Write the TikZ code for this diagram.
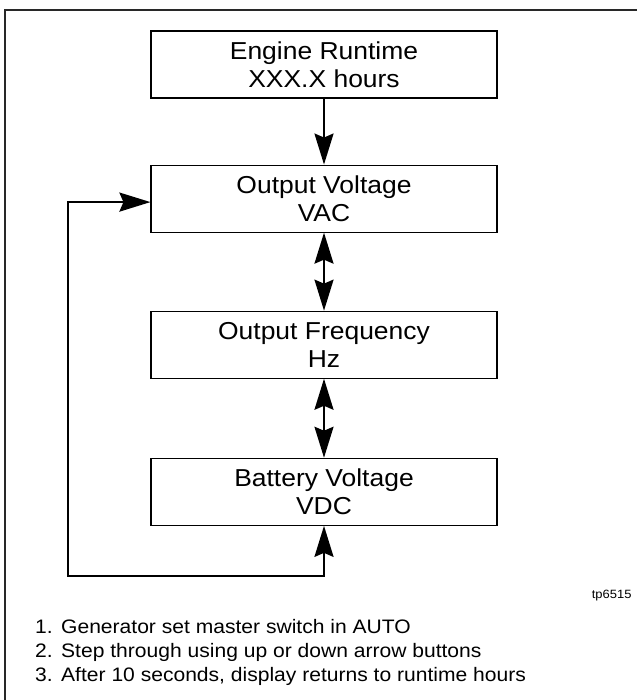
\documentclass[tikz,border=0pt]{standalone}
\usepackage{fontspec}
\setmainfont[FakeStretch=1.08]{Liberation Sans}
\definecolor{framegray}{RGB}{40,40,40}
\usetikzlibrary{arrows.meta,positioning}

\begin{document}
\begin{tikzpicture}[x=1pt,y=-1pt,
    screen/.style={draw=black, line width=1.1pt, minimum width=346pt, minimum height=67pt,
      inner sep=0pt, align=center, font=\fontsize{24.5}{28.5}\selectfont},
    flow/.style={line width=2.2pt, -{Stealth[length=31pt,width=19pt,inset=4pt]}},
    twoway/.style={line width=2.2pt, {Stealth[length=31pt,width=19pt,inset=4pt]}-{Stealth[length=31pt,width=19pt,inset=4pt]}}]
  \useasboundingbox (0,0) rectangle (637,700);
  \draw[framegray, line width=2pt] (5,700) -- (5,10) -- (637,10);

  \node[screen] (runtime) at (324,64.5) {Engine Runtime\\XXX.X hours};
  \node[screen, below=66pt of runtime] (vac) {Output Voltage\\VAC};
  \node[screen, below=78pt of vac] (freq) {Output Frequency\\Hz};
  \node[screen, below=79pt of freq] (vdc) {Battery Voltage\\VDC};
  \coordinate (loopcorner) at (68,576);

  \draw[flow] (runtime) -- (vac);
  \draw[twoway] (vac) -- (freq);
  \draw[twoway] (freq) -- (vdc);
  \draw[twoway] (vdc.south) |- (loopcorner) |- ([yshift=-3.5pt]vac.west);

  \node[anchor=base east, font=\fontsize{12}{14}\selectfont] (figref) at (635,598) {tp6515};
  \node[anchor=base west, align=left, inner sep=0pt, font=\fontsize{19.5}{24}\selectfont] (steps) at (35,681)
    {\makebox[26pt][l]{1.}Generator set master switch in AUTO\\
     \makebox[26pt][l]{2.}Step through using up or down arrow buttons\\
     \makebox[26pt][l]{3.}After 10 seconds, display returns to runtime hours};
\end{tikzpicture}
\end{document}
